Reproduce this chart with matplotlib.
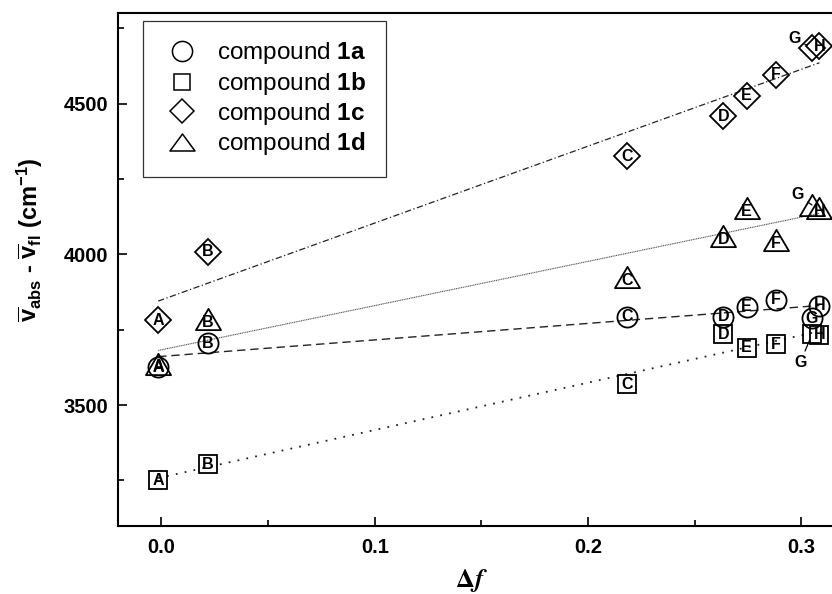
import numpy as np
import matplotlib
matplotlib.use("Agg")
import matplotlib.pyplot as plt
from matplotlib.lines import Line2D
from matplotlib.path import Path

plt.rcParams['font.family'] = ['Liberation Sans', 'DejaVu Sans']
plt.rcParams['mathtext.fontset'] = 'custom'
plt.rcParams['mathtext.rm'] = 'Liberation Sans'
plt.rcParams['mathtext.bf'] = 'Liberation Sans:bold'
plt.rcParams['mathtext.it'] = 'Liberation Sans:italic'

# ---- data ----
solvents = ['A', 'B', 'C', 'D', 'E', 'F', 'G', 'H']
delta_f = [-0.0015, 0.0217, 0.2182, 0.2635, 0.2744, 0.2882, 0.3050, 0.3085]
shift_1a = [3627, 3705, 3793, 3793, 3827, 3849, 3788, 3830]
shift_1b = [3251, 3304, 3569, 3735, 3690, 3702, 3735, 3733]
shift_1c = [3782, 4009, 4325, 4458, 4527, 4596, 4685, 4690]
shift_1d = [3637, 3785, 3924, 4062, 4155, 4049, 4164, 4154]
legend_labels = ['compound $\\mathbf{1a}$', 'compound $\\mathbf{1b}$',
                 'compound $\\mathbf{1c}$', 'compound $\\mathbf{1d}$']


def tri_path(h):
    return Path([(0, h), (-1, -h), (1, -h), (0, h)],
                [Path.MOVETO, Path.LINETO, Path.LINETO, Path.CLOSEPOLY])


tri = tri_path(0.85)
tri_leg = tri_path(0.68)

series = [
    dict(y=shift_1a, marker='o', ms=14.5, ls=(0, (6, 3.5)), lw=1.0, color='#222222',
         leg=dict(marker='o', ms=14.5), lab_dy=0, g_out=None),
    dict(y=shift_1b, marker='s', ms=13.0, ls=(0, (1, 4)), lw=1.3, color='#222222',
         leg=dict(marker='s', ms=12.0), lab_dy=0, g_out=(-8.4, -20.4)),
    dict(y=shift_1c, marker='D', ms=13.4, ls=(0, (5, 2, 1, 2)), lw=0.9, color='#222222',
         leg=dict(marker='D', ms=12.5), lab_dy=0, g_out=(-12.5, 6.5)),
    dict(y=shift_1d, marker=tri, ms=18.0, ls=(0, (1, 0.6)), lw=0.8, color='#555555',
         leg=dict(marker=tri_leg, ms=18.0), lab_dy=-2.5, g_out=(-10.3, 7.2)),
]

fig = plt.figure(figsize=(8.32, 5.94), dpi=100)
ax = fig.add_axes([0.1422, 0.115, 0.8978, 0.8626])

x = np.array(delta_f)
for s in series:
    y = np.array(s['y'], dtype=float)
    k, b = np.polyfit(x, y, 1)
    xx = np.array([x.min(), x.max()])
    ax.plot(xx, k * xx + b, ls=s['ls'], lw=s['lw'], color=s['color'], zorder=2)
    ax.plot(x, y, ls='none', marker=s['marker'], ms=s['ms'], mfc='none',
            mec='black', mew=1.3, zorder=3)
    for i, lab in enumerate(solvents):
        if lab == 'G' and s['g_out'] is not None:
            ax.annotate('G', xy=(x[i], y[i]), xytext=s['g_out'],
                        textcoords='offset points', ha='center', va='center',
                        fontsize=11.5, fontweight='bold', zorder=4,
                        arrowprops=dict(arrowstyle='-', lw=0.9, color='black',
                                        shrinkA=1, shrinkB=4))
        else:
            ax.annotate(lab, xy=(x[i], y[i]), xytext=(0, s['lab_dy']),
                        textcoords='offset points', ha='center', va='center',
                        fontsize=11.5, fontweight='bold', zorder=4)

ax.set_xlim(-0.0202, 0.330)
ax.set_ylim(3100, 4800)
ax.set_xticks([0.0, 0.1, 0.2, 0.3])
ax.set_xticklabels(['0.0', '0.1', '0.2', '0.3'])
ax.set_xticks([0.05, 0.15, 0.25], minor=True)
ax.set_yticks([3500, 4000, 4500])
ax.set_yticks([3250, 3750, 4250, 4750], minor=True)
ax.tick_params(which='both', direction='in', width=1.2, top=False, right=False)
ax.tick_params(which='major', length=6.5)
ax.tick_params(which='minor', length=4.3)
ax.tick_params(axis='x', which='major', pad=9)
ax.tick_params(axis='y', which='major', pad=7)
for t in ax.get_xticklabels() + ax.get_yticklabels():
    t.set_fontsize(14.5)
    t.set_fontweight('bold')
for sp in ax.spines.values():
    sp.set_linewidth(1.5)

handles = [Line2D([], [], ls='none', marker=s['leg']['marker'], ms=s['leg']['ms'],
                  mfc='none', mec='black', mew=1.1) for s in series]
leg = ax.legend(handles, legend_labels, loc='upper left', bbox_to_anchor=(0.033, 0.985),
                borderaxespad=0, fontsize=17.5, frameon=True, fancybox=False,
                edgecolor='black', borderpad=0.8, handlelength=1.6, handletextpad=0.64,
                labelspacing=0.15)
leg.get_frame().set_linewidth(0.9)

fig.text(30 / 832, 1 - 240 / 594,
         r'$\mathbf{\overline{v}_{abs}}$ - $\mathbf{\overline{v}_{fl}}$ (cm$\mathbf{^{-1}}$)',
         rotation=90, ha='center', va='center', fontsize=17, fontweight='bold')
fig.text(471 / 832, 1 - 580 / 594, r'$\mathbf{\Delta}\mathbfit{f}$', math_fontfamily='stix',
         ha='center', va='center', fontsize=19)

fig.savefig('out.png', dpi=100)
